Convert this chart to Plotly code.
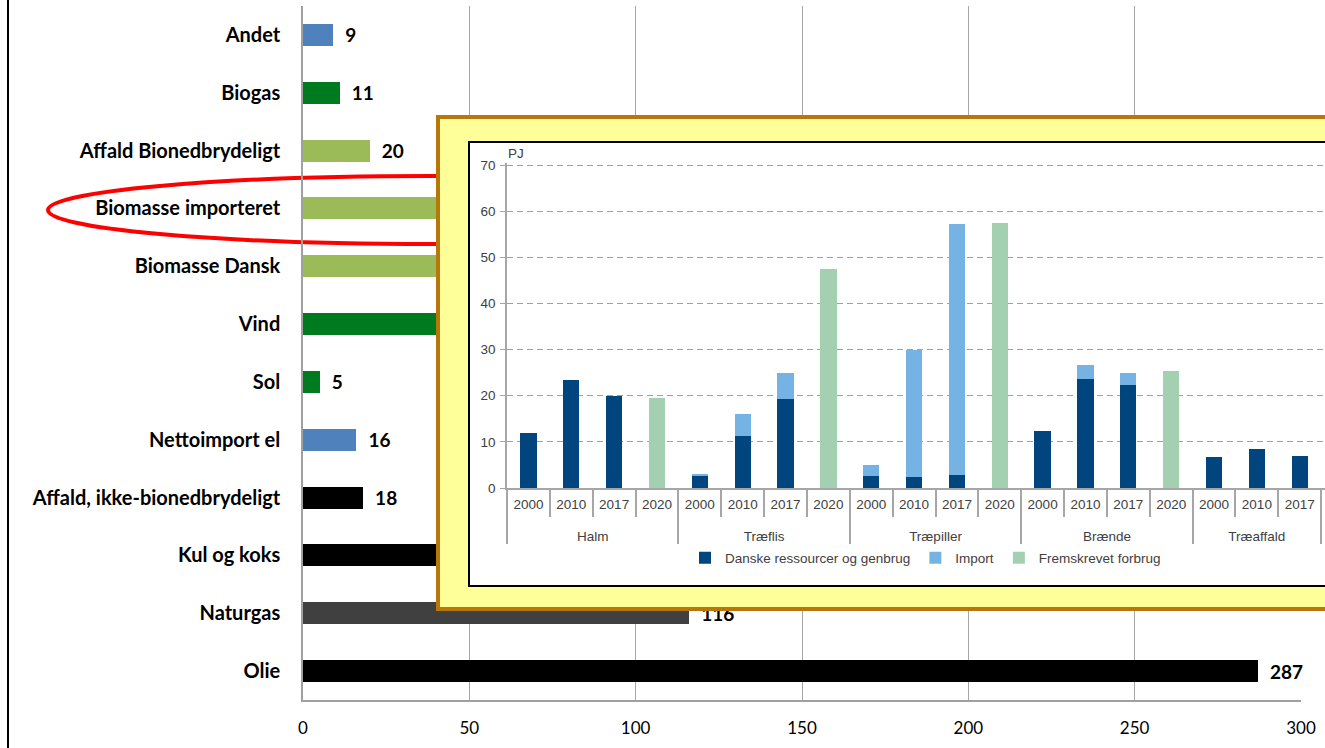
import plotly.graph_objects as go

W, H = 1325, 748

# ---------------- main chart data ----------------
categories = ["Andet", "Biogas", "Affald Bionedbrydeligt", "Biomasse importeret",
              "Biomasse Dansk", "Vind", "Sol", "Nettoimport el",
              "Affald, ikke-bionedbrydeligt", "Kul og koks", "Naturgas", "Olie"]
values = [9, 11, 20, 78, 85, 53, 5, 16, 18, 65, 116, 287]
bar_colors = ["#4F81BD", "#007A1F", "#9BBB59", "#9BBB59", "#9BBB59", "#007A1F",
              "#007A1F", "#4F81BD", "#000000", "#000000", "#404040", "#000000"]
x_ticks = [0, 50, 100, 150, 200, 250, 300]

# ---------------- inset chart data ----------------
inset_groups = ["Halm"] * 4 + ["Træflis"] * 4 + ["Træpiller"] * 4 + ["Brænde"] * 4 + ["Træaffald"] * 4
inset_years = ["2000", "2010", "2017", "2020"] * 5
danske = [12.0, 23.3, 20.0, None, 2.7, 11.3, 19.3, None, 2.7, 2.4, 2.75, None,
          12.35, 23.6, 22.3, None, 6.65, 8.4, 7.0, None]
imported = [None, None, None, None, 0.3, 4.7, 5.6, None, 2.3, 27.5, 54.4, None,
            None, 3.0, 2.6, None, None, None, None, None]
fremskrevet = [None, None, None, 19.6, None, None, None, 47.5, None, None, None, 57.5,
               None, None, None, 25.3, None, None, None, None]
inset_names = ["Danske ressourcer og genbrug", "Import", "Fremskrevet forbrug"]
inset_colors = ["#00457D", "#74B3E3", "#A3D0B0"]

INSET_FONT = dict(family="Liberation Sans", size=13.5, color="#404040")

# group labels set one line lower, as in the reference
group_labels = ["<br>" + g for g in inset_groups]

fig = go.Figure()

fig.add_trace(go.Bar(
    y=categories, x=values, orientation="h",
    marker=dict(color=bar_colors, line_width=0),
    texttemplate="\u00a0\u00a0%{x}", textposition="outside", cliponaxis=False,
    constraintext="none",
    textfont=dict(family="Lato", size=19, color="black", weight="bold"),
    showlegend=False, hoverinfo="skip", xaxis="x", yaxis="y"))

# empty trace to create the frame subplot
fig.add_trace(go.Scatter(x=[], y=[], xaxis="x2", yaxis="y2", showlegend=False))

for name, vals, col in zip(inset_names, [danske, imported, fremskrevet], inset_colors):
    fig.add_trace(go.Bar(
        x=[group_labels, inset_years], y=vals, name=name,
        marker=dict(color=col, line_width=0),
        xaxis="x3", yaxis="y3", hoverinfo="skip"))

shapes = [
    # left border of chart area
    dict(type="line", xref="paper", yref="paper", x0=8 / W, x1=8 / W, y0=0, y1=1,
         line=dict(color="black", width=2), layer="below"),
    # red ellipse
    dict(type="circle", xref="paper", yref="paper", x0=48 / W, x1=812 / W,
         y0=1 - 244 / H, y1=1 - 176 / H, line=dict(color="#FF0000", width=4), layer="below"),
    # inset frame (drawn in frame subplot)
    dict(type="rect", xref="x2", yref="y2", x0=436, x1=1340, y0=115, y1=611,
         fillcolor="#B8770A", line_width=0, layer="below"),
    dict(type="rect", xref="x2", yref="y2", x0=440, x1=1340, y0=119, y1=607,
         fillcolor="#FFFF99", line_width=0, layer="below"),
    dict(type="rect", xref="x2", yref="y2", x0=469, x1=1340, y0=142, y1=586,
         fillcolor="white", line=dict(color="black", width=2), layer="below"),
]

fig.update_layout(
    width=W, height=H,
    margin=dict(l=0, r=0, t=0, b=0, autoexpand=False),
    paper_bgcolor="white", plot_bgcolor="white",
    barmode="stack", bargap=0.62,
    shapes=shapes,
    xaxis=dict(domain=[303 / W, 1301 / W], anchor="y", range=[0, 300], tickvals=x_ticks,
               automargin=False,
               showgrid=True, gridcolor="#A6A6A6", gridwidth=1, zeroline=False,
               showline=True, linecolor="#A0A0A0", linewidth=1.5, ticks="",
               ticklabelstandoff=12,
               tickfont=dict(family="Lato", size=17, color="black")),
    yaxis=dict(domain=[1 - 700 / H, 1 - 6 / H], anchor="x", type="category",
               automargin=False,
               autorange="reversed", showgrid=False, zeroline=False,
               showline=True, linecolor="#A0A0A0", linewidth=1.5, ticks="",
               ticklabelstandoff=17,
               tickfont=dict(family="Lato", size=20, color="black", weight="bold")),
    xaxis2=dict(domain=[436 / W, 1], anchor="y2", range=[436, 1325], visible=False,
                automargin=False),
    yaxis2=dict(domain=[1 - 611 / H, 1 - 115 / H], anchor="x2", range=[611, 115],
                visible=False, automargin=False),
    xaxis3=dict(domain=[507 / W, 1], anchor="y3", type="multicategory",
                automargin=False,
                range=[-0.5, 18.59], showline=True, linecolor="#A6A6A6", linewidth=1.5,
                ticks="outside", ticklen=27, tickcolor="#A6A6A6", tickwidth=1.5,
                tickson="boundaries", showdividers=True, dividercolor="#A6A6A6",
                dividerwidth=1.5, showgrid=False, zeroline=False,
                ticklabelstandoff=3,
                tickfont=INSET_FONT),
    yaxis3=dict(domain=[1 - 488 / H, 1 - 162.7 / H], anchor="x3", range=[0, 70.5],
                tickvals=[0, 10, 20, 30, 40, 50, 60, 70],
                automargin=False,
                showline=True, linecolor="#A6A6A6", linewidth=1.5,
                ticks="outside", ticklen=5, tickcolor="#A6A6A6",
                showgrid=True, gridcolor="#A0A0A0", gridwidth=1.2, griddash="6px,4px",
                zeroline=False, ticklabelstandoff=2,
                tickfont=INSET_FONT),
    legend=dict(orientation="h", x=685 / W, y=1 - 558 / H, xanchor="left", yanchor="middle",
                font=INSET_FONT,
                bgcolor="rgba(0,0,0,0)", traceorder="normal", itemwidth=30),
    annotations=[dict(text="PJ", xref="paper", yref="paper", x=506 / W, y=1 - 154 / H,
                      xanchor="left", yanchor="middle", showarrow=False,
                      font=INSET_FONT)],
)

fig.write_html("out.html")
